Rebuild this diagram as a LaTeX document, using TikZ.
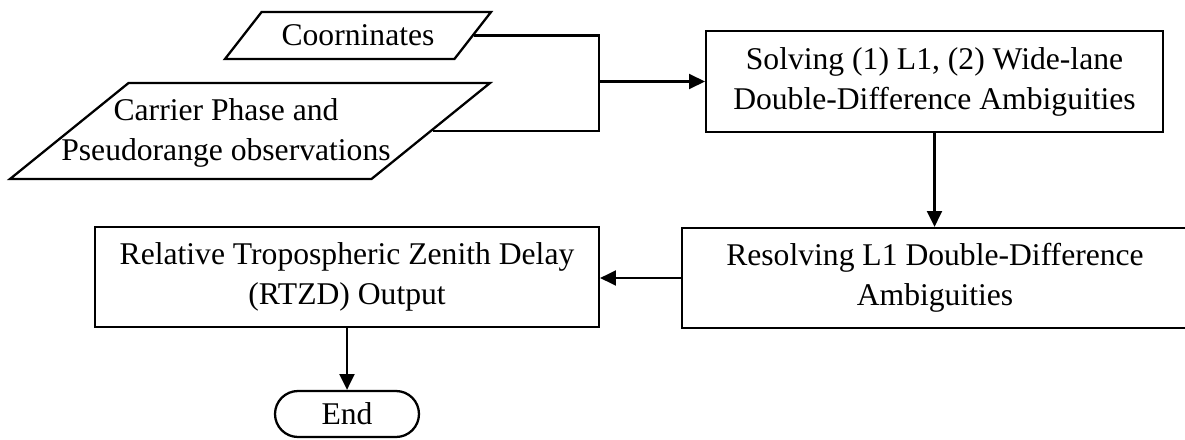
\documentclass[tikz,border=0pt]{standalone}
\usepackage{fontspec}
\setmainfont{Liberation Serif}
\usetikzlibrary{shapes.geometric,shapes.misc,arrows.meta}

\tikzset{
  line/.style={line width=1.3pt},
  proc/.style={line, draw, rectangle, inner sep=0pt, align=center},
  data/.style={line, draw, trapezium, trapezium stretches body, align=center},
  term/.style={line, draw, rounded rectangle, inner sep=0pt, minimum width=2.88cm, minimum height=0.92cm},
  arr/.style={line, -{Triangle[length=9pt,width=8.5pt]}}
}

\begin{document}
\begin{tikzpicture}[x=0.02cm, y=-0.02cm, font=\fontsize{18}{22.8}\selectfont]
  \useasboundingbox (0,0) rectangle (1185,439);
  \node[data, trapezium left angle=42, trapezium right angle=138, inner xsep=0.4cm, minimum height=0.94cm] (coor) at (358,35.5) {Coorninates};
  \node[data, trapezium left angle=39, trapezium right angle=141, inner xsep=2.43cm, inner ysep=0.96cm,
        label={[xshift=-0.48cm, yshift=-0.04cm, align=center]center:{Carrier Phase and\\Pseudorange observations}}] (carr) at (250,131) {};
  \node[proc, minimum width=9.14cm, minimum height=2.02cm] (solve) at (934.5,81.5) {Solving (1) L1, (2) Wide-lane\\Double-Difference Ambiguities};
  \node[proc, minimum width=10.12cm, minimum height=2cm] (resolve) at (935,278) {Resolving L1 Double-Difference\\Ambiguities};
  \node[proc, minimum width=10.08cm, minimum height=2cm] (rtzd) at (347,277) {Relative Tropospheric Zenith Delay\\(RTZD) Output};
  \node[term] (end) at (347,414) {End};
  \coordinate (join) at (599,81.5);

  \draw[line] (coor.east) -| (join) |- (carr.east);
  \draw[arr] (join) -- (solve.west);
  \draw[arr] (solve.south) -- (solve.south |- resolve.north);
  \draw[arr] (resolve.west) -- (resolve.west -| rtzd.east);
  \draw[arr] (rtzd.south) -- (end.north);
\end{tikzpicture}
\end{document}
